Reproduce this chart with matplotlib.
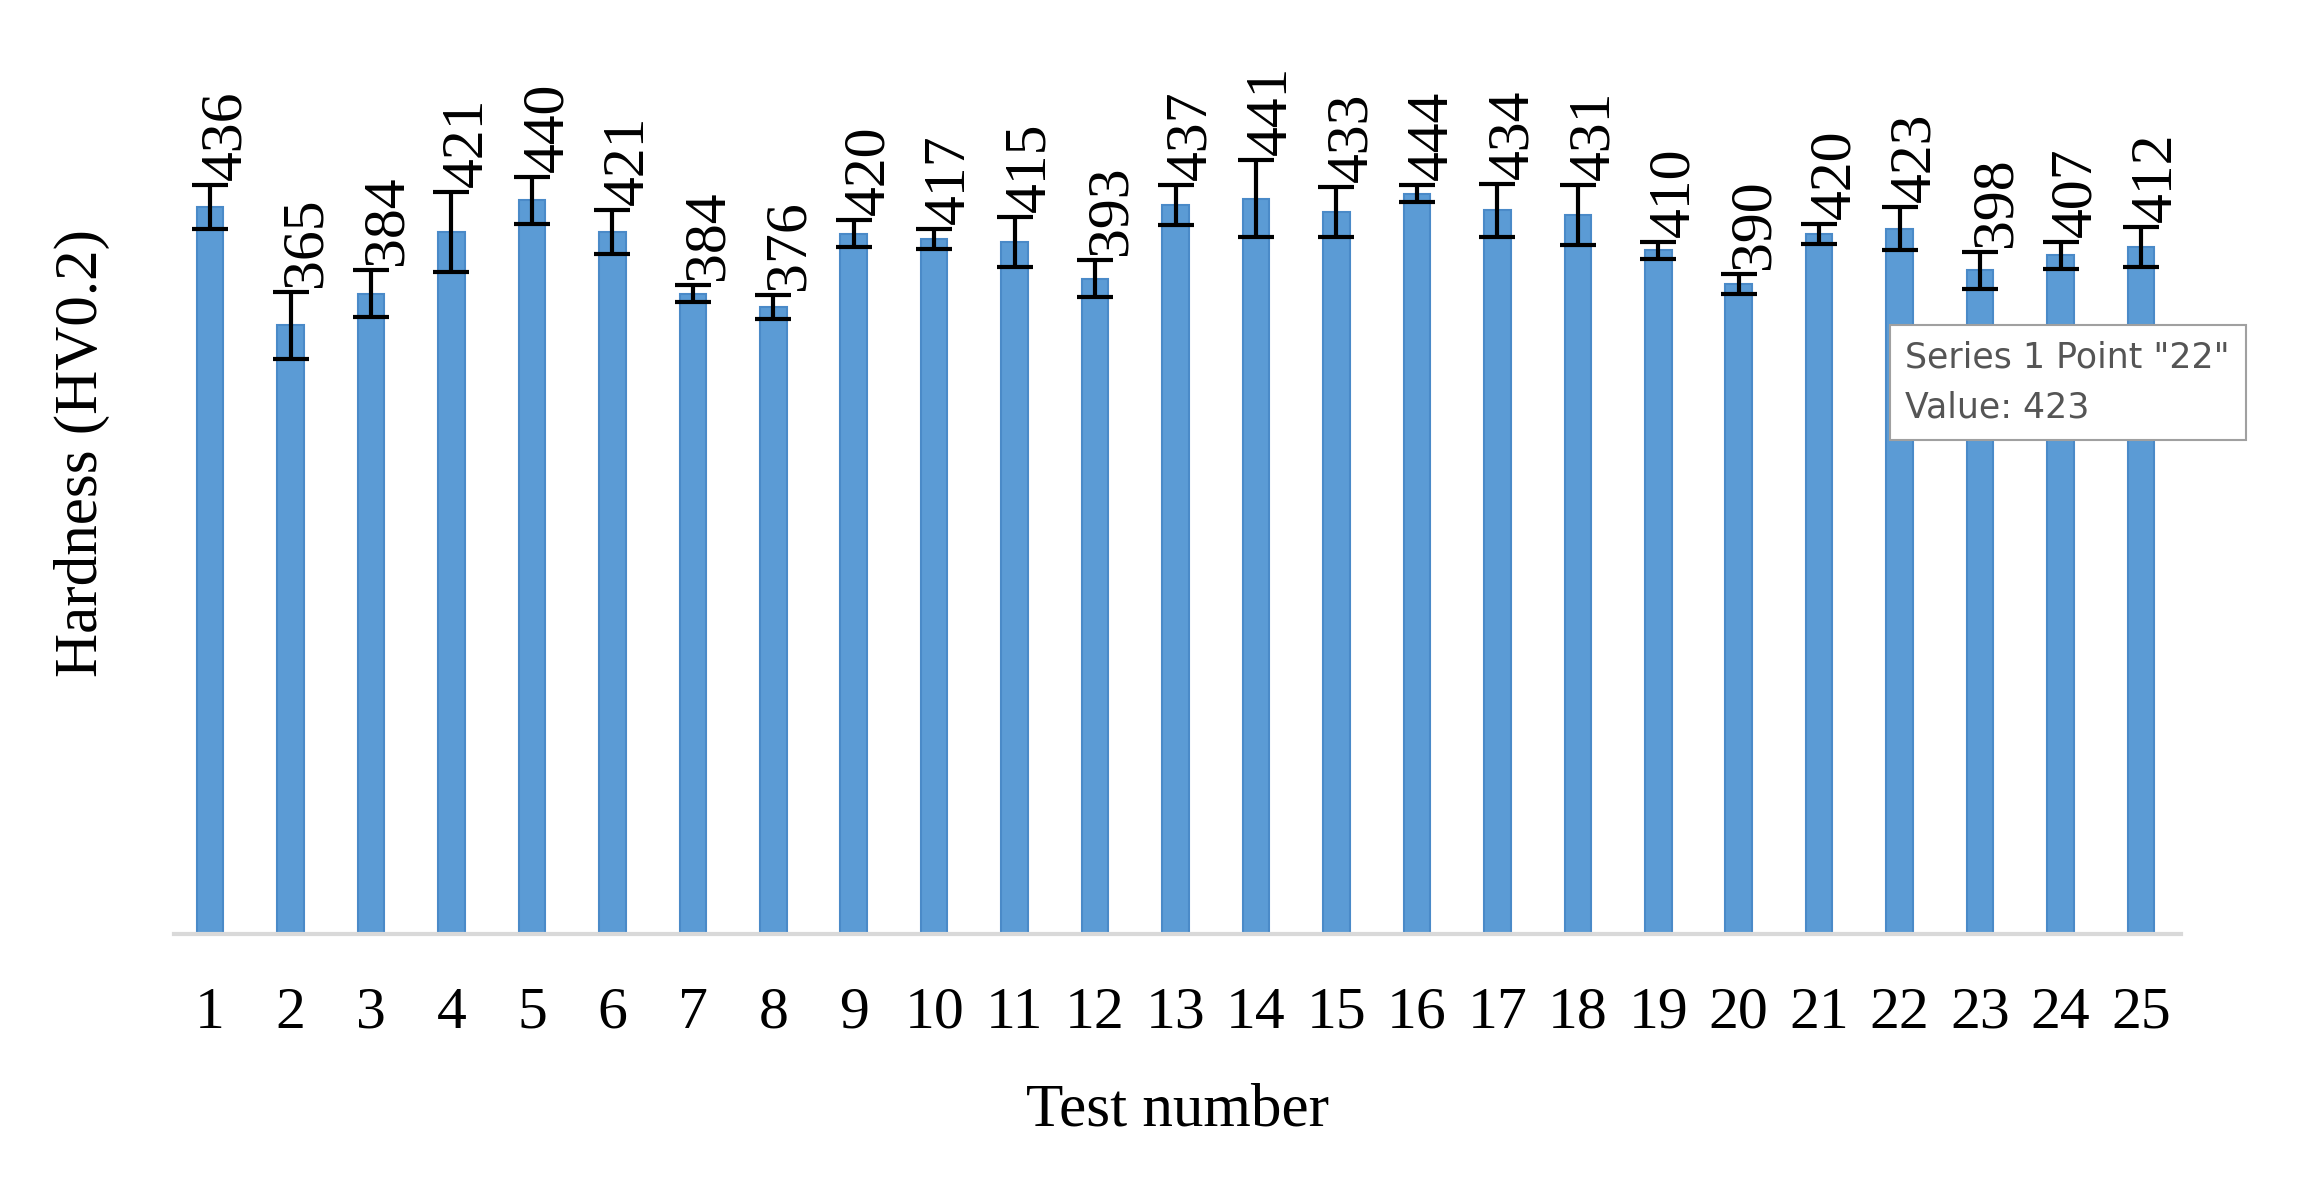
import matplotlib
matplotlib.use("Agg")
import matplotlib.pyplot as plt
import numpy as np

tests = [str(i) for i in range(1, 26)]
hardness = [436, 365, 384, 421, 440, 421, 384, 376, 420, 417, 415, 393, 437, 441, 433, 444, 434, 431, 410, 390, 420, 423, 398, 407, 412]
errors = [13, 20, 14, 24, 14, 13, 5, 7, 8, 6, 15, 11, 12, 23, 15, 5, 16, 18, 5, 6, 6, 13, 11, 8, 12]

fig = plt.figure(figsize=(23.18, 11.96), dpi=100)
ax = fig.add_axes([0.075, 0.219, 0.866, 0.732])
x = np.arange(len(tests))
ax.bar(x, hardness, width=0.33, color="#5B9BD5", edgecolor="#4A8AC8", linewidth=1.5, zorder=2)
ax.errorbar(x, hardness, yerr=errors, fmt="none", ecolor="black", elinewidth=3, capsize=13, capthick=3, zorder=3)
for xi, v, e in zip(x, hardness, errors):
    ax.text(xi + 0.2, v + e + 3, str(v), rotation=90, ha="center", va="bottom",
            fontsize=43, family="Liberation Serif")
ax.set_xlim(-0.45, 24.5)
ax.set_ylim(0, 525)
ax.set_xticks(x)
ax.set_xticklabels(tests, fontsize=43, family="Liberation Serif")
ax.set_yticks([])
ax.tick_params(axis="x", length=0, pad=38)
for s in ["top", "right", "left"]:
    ax.spines[s].set_visible(False)
ax.spines["bottom"].set_color("#D9D9D9")
ax.spines["bottom"].set_linewidth(3)
ax.set_xlabel("Test number", fontsize=44, family="Liberation Serif", labelpad=30)
ax.set_ylabel("Hardness (HV0.2)", fontsize=44, family="Liberation Serif")
ax.yaxis.set_label_coords(-0.032, 0.55)

fig.text(0.822, 0.680, 'Series 1 Point "22"\nValue: 423', fontsize=25,
         family="DejaVu Sans", color="#555555", va="center", ha="left", linespacing=1.6,
         bbox=dict(boxstyle="square,pad=0.45", facecolor="white", edgecolor="#A0A0A0", linewidth=1.5))
fig.savefig("out.png", dpi=100)
